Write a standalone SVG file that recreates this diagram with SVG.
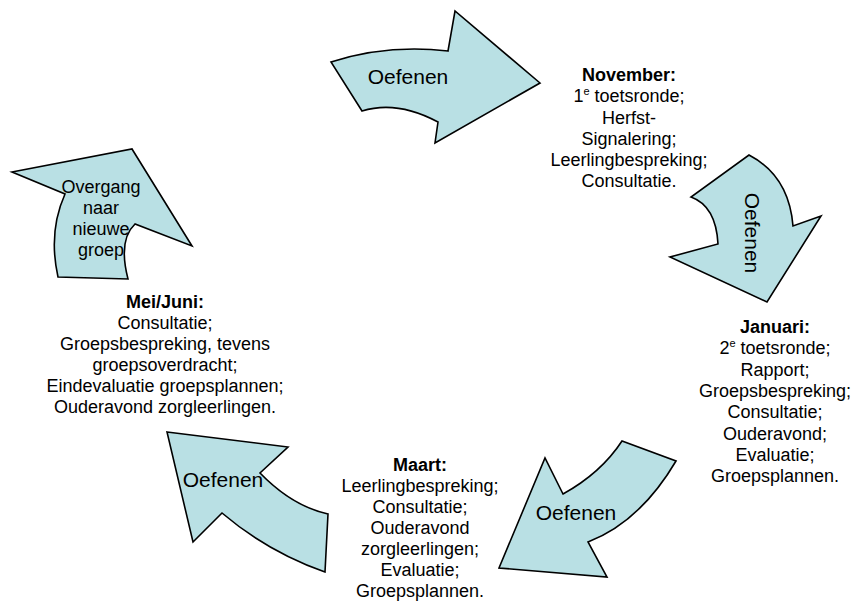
<svg xmlns="http://www.w3.org/2000/svg" width="851" height="601" viewBox="0 0 851 601">
<style>
.arrow{fill:#B9E0E4;stroke:#000;stroke-width:1.6;stroke-linejoin:miter}
.lbl{font-family:"Liberation Sans",Arial,sans-serif;font-size:21px;fill:#000;text-anchor:middle}
.t{font-family:"Liberation Sans",Arial,sans-serif;font-size:18px;fill:#000;text-anchor:middle}
.b{font-weight:bold}
</style>
<rect width="851" height="601" fill="#fff"/>
<g id="connectors">
  <g id="arrow-top">
    <path class="arrow" d="M331,62 Q387,44 448,51 L455,11 L540,83 L435,143 L438,122 Q397,100 362,111 Z"/>
    <text class="lbl" x="408" y="84">Oefenen</text>
  </g>
  <g id="arrow-right">
    <path class="arrow" d="M749,155 Q789,176 793,226 L821,216 L767,302 L670,257 L718,244 Q716,206 691,197 Z"/>
    <text class="lbl" transform="translate(752,233) rotate(90)" x="0" y="7">Oefenen</text>
  </g>
  <g id="arrow-bottom-right">
    <path class="arrow" d="M676,461 Q640,522 588,542 L607,577 L499,568 L545,458 L563,494 Q601,473 622,441 Z"/>
    <text class="lbl" x="576" y="520">Oefenen</text>
  </g>
  <g id="arrow-bottom-left">
    <path class="arrow" d="M167,432 L288,447 L260,473 Q292,506 328,514 L325,572 Q268,552 222,513 L193,542 Z"/>
    <text class="lbl" x="223" y="487">Oefenen</text>
  </g>
  <g id="arrow-top-left">
    <path class="arrow" d="M12,172 L132,149 L192,246 L135,224 Q118,240 128,279 L58,277 Q48,232 65,194 Z"/>
    <text class="t" x="101" y="193">Overgang</text>
    <text class="t" x="101" y="214">naar</text>
    <text class="t" x="101" y="235">nieuwe</text>
    <text class="t" x="101" y="256">groep</text>
  </g>
</g>
<g id="node-november">
  <text class="t b" x="629" y="81">November:</text>
  <text class="t" x="629" y="102">1<tspan font-size="11" dy="-7">e</tspan><tspan dy="7"> toetsronde;</tspan></text>
  <text class="t" x="629" y="124">Herfst-</text>
  <text class="t" x="629" y="145">Signalering;</text>
  <text class="t" x="629" y="166">Leerlingbespreking;</text>
  <text class="t" x="629" y="187">Consultatie.</text>
</g>
<g id="node-januari">
  <text class="t b" x="775" y="333">Januari:</text>
  <text class="t" x="775" y="354">2<tspan font-size="11" dy="-7">e</tspan><tspan dy="7"> toetsronde;</tspan></text>
  <text class="t" x="775" y="376">Rapport;</text>
  <text class="t" x="775" y="397">Groepsbespreking;</text>
  <text class="t" x="775" y="418">Consultatie;</text>
  <text class="t" x="775" y="440">Ouderavond;</text>
  <text class="t" x="775" y="461">Evaluatie;</text>
  <text class="t" x="775" y="482">Groepsplannen.</text>
</g>
<g id="node-maart">
  <text class="t b" x="420" y="471">Maart:</text>
  <text class="t" x="420" y="492">Leerlingbespreking;</text>
  <text class="t" x="420" y="513">Consultatie;</text>
  <text class="t" x="420" y="534">Ouderavond</text>
  <text class="t" x="420" y="555">zorgleerlingen;</text>
  <text class="t" x="420" y="576">Evaluatie;</text>
  <text class="t" x="420" y="597">Groepsplannen.</text>
</g>
<g id="node-meijuni">
  <text class="t b" x="165" y="308">Mei/Juni:</text>
  <text class="t" x="165" y="329">Consultatie;</text>
  <text class="t" x="165" y="350">Groepsbespreking, tevens</text>
  <text class="t" x="165" y="371">groepsoverdracht;</text>
  <text class="t" x="165" y="392">Eindevaluatie groepsplannen;</text>
  <text class="t" x="165" y="413">Ouderavond zorgleerlingen.</text>
</g>
</svg>
